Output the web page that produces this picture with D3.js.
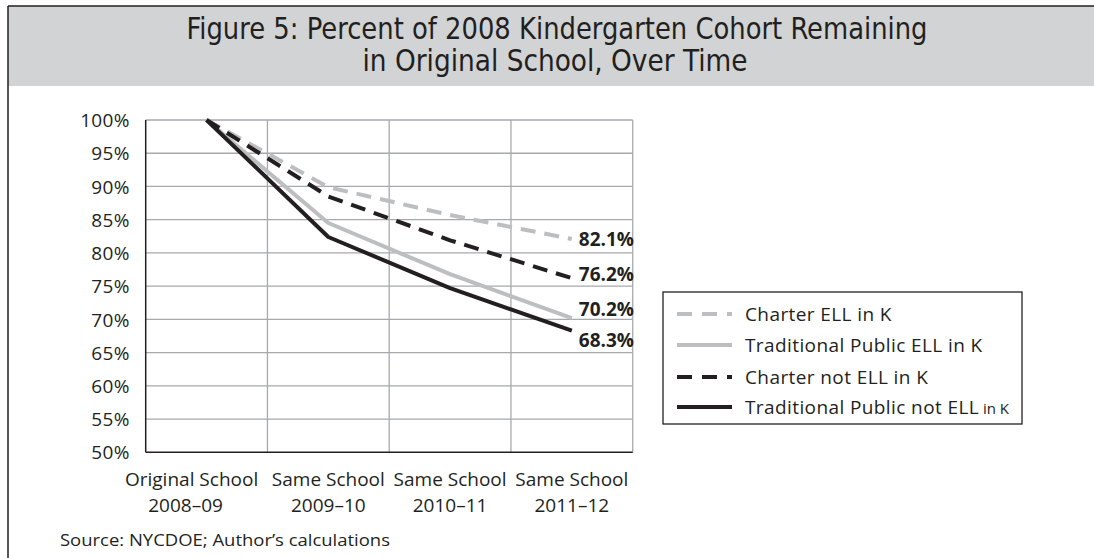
<!DOCTYPE html>
<html>
<head>
<meta charset="utf-8">
<script src="https://cdn.jsdelivr.net/npm/d3@7"></script>
<style>
  html, body { margin: 0; padding: 0; background: #ffffff; }
  svg { display: block; }
</style>
</head>
<body>
<svg id="chart" width="1094" height="558"></svg>
<script>
// School-year categories (two-line axis labels)
const categoryNames = ["Original School", "Same School", "Same School", "Same School"];
const categoryYears = ["2008–09", "2009–10", "2010–11", "2011–12"];

// Percent of the 2008 kindergarten cohort still in the original school
const charterEll      = [100, 89.9, 85.7, 82.1];
const traditionalEll  = [100, 84.5, 76.8, 70.2];
const charterNotEll   = [100, 88.5, 81.9, 76.2];
const traditionalNotEll = [100, 82.4, 74.7, 68.3];

const seriesNames = ["Charter ELL in K", "Traditional Public ELL in K", "Charter not ELL in K", "Traditional Public not ELL"];
const yTicks = [50, 55, 60, 65, 70, 75, 80, 85, 90, 95, 100];

const INK = "#231f20", LIGHT = "#bcbec0", GRID = "#a7a9ac";
const SANS = "'Open Sans', 'DejaVu Sans', sans-serif";
const NARROW = "'Liberation Sans Narrow', 'DejaVu Sans Condensed', 'Liberation Sans', sans-serif";

const series = [
  { name: seriesNames[0], values: charterEll,        color: LIGHT, dash: "15,9", labelDy: 0 },
  { name: seriesNames[1], values: traditionalEll,    color: LIGHT, dash: null,   labelDy: -9 },
  { name: seriesNames[2], values: charterNotEll,     color: INK,   dash: "15,9", labelDy: -4 },
  { name: seriesNames[3], values: traditionalNotEll, color: INK,   dash: null,   labelDy: 10 }
];

const svg = d3.select("#chart");

// Frame and grey title band
svg.append("rect").attr("x", 8).attr("y", 6).attr("width", 1086).attr("height", 80).attr("fill", "#d1d3d4");
svg.append("line").attr("x1", 8).attr("x2", 1094).attr("y1", 6).attr("y2", 6).attr("stroke", INK).attr("stroke-width", 1.5);
svg.append("line").attr("x1", 8).attr("x2", 8).attr("y1", 6).attr("y2", 558).attr("stroke", INK).attr("stroke-width", 1.5);

const title = svg.append("g").attr("fill", INK).attr("font-family", NARROW).attr("font-size", 30).attr("text-anchor", "middle");
title.append("text").attr("x", 557).attr("y", 39)
  .attr("textLength", 741).attr("lengthAdjust", "spacingAndGlyphs")
  .text("Figure 5: Percent of 2008 Kindergarten Cohort Remaining");
title.append("text").attr("x", 555).attr("y", 71)
  .attr("textLength", 385).attr("lengthAdjust", "spacingAndGlyphs")
  .text("in Original School, Over Time");

// Scales
const x0 = 145.7, x1 = 632.7, yTop = 120, yBot = 452.3;
const x = d3.scaleBand().domain(d3.range(categoryNames.length)).range([x0, x1]).padding(0);
const y = d3.scaleLinear().domain([50, 100]).range([yBot, yTop]);
const cx = i => x(i) + x.bandwidth() / 2;

// Gridlines
const grid = svg.append("g").attr("stroke", GRID).attr("stroke-width", 1.3);
grid.selectAll("line.h").data(yTicks.filter(t => t > 50)).join("line")
  .attr("class", "h").attr("x1", x0).attr("x2", x1).attr("y1", d => y(d)).attr("y2", d => y(d));
grid.selectAll("line.v").data(d3.range(1, categoryNames.length + 1)).join("line")
  .attr("class", "v").attr("x1", d => x0 + d * x.step()).attr("x2", d => x0 + d * x.step())
  .attr("y1", yTop).attr("y2", yBot);

// Axes
const yAxis = d3.axisLeft(y).tickValues(yTicks).tickSize(0).tickPadding(16).tickFormat(d => d + "%");
const gy = svg.append("g").attr("transform", `translate(${x0},0)`).call(yAxis);
gy.select(".domain").remove();
gy.selectAll("text").attr("font-family", SANS).attr("font-size", 19).attr("fill", INK)
  .attr("letter-spacing", 0.3).attr("dy", "0.35em");

const xAxis = d3.axisBottom(x).tickSize(0).tickFormat("");
const gx = svg.append("g").attr("transform", `translate(0,${yBot})`).call(xAxis);
gx.select(".domain").remove();
gx.selectAll(".tick").each(function (d) {
  const t = d3.select(this).append("text")
    .attr("font-family", SANS).attr("font-size", 19).attr("fill", INK).attr("text-anchor", "middle");
  t.append("tspan").attr("x", d === 0 ? -15 : 0).attr("y", 34).text(categoryNames[d]);
  t.append("tspan").attr("x", d === 0 ? -21 : 0).attr("y", 60).text(categoryYears[d]);
});

svg.append("line").attr("x1", x0).attr("x2", x0).attr("y1", yTop).attr("y2", yBot).attr("stroke", INK).attr("stroke-width", 1.5);
svg.append("line").attr("x1", x0).attr("x2", x1).attr("y1", yBot).attr("y2", yBot).attr("stroke", INK).attr("stroke-width", 1.5);

// Lines
const line = d3.line().x((d, i) => cx(i)).y(d => y(d));
svg.append("g").selectAll("path").data(series).join("path")
  .attr("d", s => line(s.values))
  .attr("fill", "none")
  .attr("stroke", s => s.color)
  .attr("stroke-width", 4)
  .attr("stroke-linejoin", "round")
  .attr("stroke-dasharray", s => s.dash);

// End-of-line value labels
const last = categoryNames.length - 1;
svg.append("g").selectAll("text").data(series).join("text")
  .attr("x", cx(last) + 7)
  .attr("y", s => y(s.values[last]) + s.labelDy)
  .attr("dy", "0.35em")
  .attr("font-family", SANS).attr("font-size", 19).attr("font-weight", "bold").attr("fill", INK)
  .text(s => s.values[last].toFixed(1) + "%");

// Legend
const legend = svg.append("g");
legend.append("rect").attr("x", 663).attr("y", 292).attr("width", 359).attr("height", 132)
  .attr("fill", "#ffffff").attr("stroke", INK).attr("stroke-width", 1.3);
const rowY = [314, 345, 377, 407];
const rows = legend.selectAll("g.row").data(series).join("g").attr("class", "row")
  .attr("transform", (s, i) => `translate(0,${rowY[i]})`);
rows.append("line").attr("x1", 677).attr("x2", 732).attr("y1", 0).attr("y2", 0)
  .attr("stroke", s => s.color).attr("stroke-width", 4).attr("stroke-dasharray", s => s.dash ? "15,10" : null);
const lt = rows.append("text").attr("x", 745).attr("y", 0).attr("dy", "0.35em")
  .attr("font-family", SANS).attr("font-size", 19).attr("letter-spacing", 0.4).attr("fill", INK)
  .text(s => s.name);
lt.filter((s, i) => i === 3).append("tspan").attr("font-size", 15).attr("letter-spacing", 0).text(" in K");

// Source note
svg.append("text").attr("x", 60).attr("y", 546)
  .attr("font-family", SANS).attr("font-size", 16).attr("fill", INK)
  .attr("textLength", 330).attr("lengthAdjust", "spacingAndGlyphs")
  .text("Source: NYCDOE; Author’s calculations");
</script>
</body>
</html>
